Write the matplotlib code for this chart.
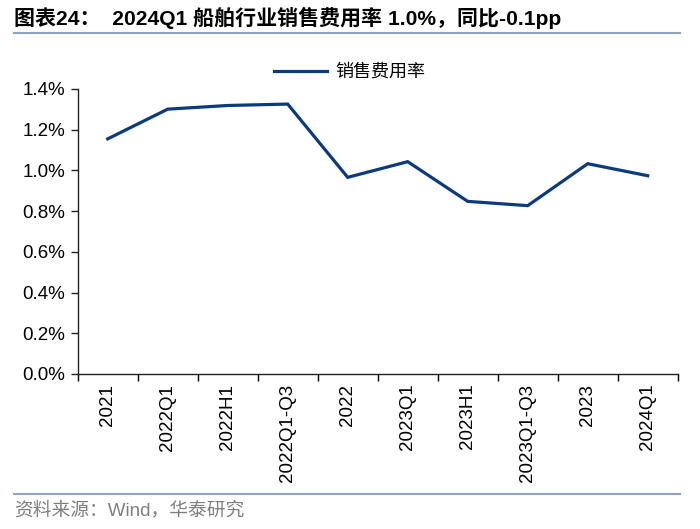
import matplotlib
matplotlib.use("Agg")
import matplotlib.pyplot as plt
from matplotlib.ticker import FuncFormatter, FixedLocator
from matplotlib.lines import Line2D

categories = ["2021", "2022Q1", "2022H1", "2022Q1-Q3", "2022", "2023Q1",
              "2023H1", "2023Q1-Q3", "2023", "2024Q1"]
sales_expense_ratio = [1.155, 1.301, 1.319, 1.326, 0.966, 1.043,
                       0.848, 0.827, 1.033, 0.974]
series_name = "销售费用率"
title_text = "图表24：  2024Q1 船舶行业销售费用率 1.0%，同比-0.1pp"
source_text = "资料来源：Wind，华泰研究"
yticks = [0.0, 0.2, 0.4, 0.6, 0.8, 1.0, 1.2, 1.4]

plt.rcParams['font.family'] = ['Liberation Sans', 'Noto Sans CJK SC', 'DejaVu Sans']

W, H = 700, 529
fig = plt.figure(figsize=(W / 100, H / 100), dpi=100)

ax = fig.add_axes([77.7 / W, 1 - 374 / H, 600 / W, (374 - 89) / H])
x = list(range(len(categories)))
line_color = "#0b3a7d"
ax.plot(x, sales_expense_ratio, color=line_color, lw=2.3, solid_joinstyle="miter")
ax.set_xlim(-0.5, len(categories) - 0.5)
ax.set_ylim(0, 1.4)
ax.set_yticks(yticks)
ax.yaxis.set_major_formatter(FuncFormatter(lambda v, p: f"{v:.1f}%"))
ax.set_xticks(x)
ax.set_xticklabels(categories, rotation=90)
ax.xaxis.set_minor_locator(FixedLocator([i - 0.5 for i in range(len(categories) + 1)]))
ax.tick_params(axis="x", which="major", length=0, pad=7, labelsize=13.5)
ax.tick_params(axis="x", which="minor", length=5, width=1, direction="out")
ax.tick_params(axis="y", length=5, width=1, direction="out", labelsize=13.5, pad=4)
for s in ["top", "right"]:
    ax.spines[s].set_visible(False)
for s in ["left", "bottom"]:
    ax.spines[s].set_linewidth(1)
    ax.spines[s].set_color("#222222")
ax.tick_params(colors="#222222", labelcolor="black")

handle = Line2D([], [], color=line_color, lw=2.3)
fig.legend([handle], [series_name], loc="center", bbox_to_anchor=(350 / W, 1 - 72 / H),
           frameon=False, handlelength=2.9, handletextpad=0.5,
           prop={"family": ["Noto Sans CJK SC"], "size": 13})

# title
fig.text(14 / W, 1 - 18 / H, title_text, fontsize=15.1, fontweight="bold",
         ha="left", va="center",
         family=["Liberation Sans", "Noto Sans CJK SC"])
sep_color = "#8ea3c4"
fig.add_artist(Line2D([14 / W, 680 / W], [1 - 33 / H, 1 - 33 / H], color=sep_color, lw=1.5))
fig.add_artist(Line2D([14 / W, 680 / W], [1 - 494 / H, 1 - 494 / H], color=sep_color, lw=1.5))
fig.text(14 / W, 1 - 510 / H, source_text, fontsize=13.5, color="#7f7f7f",
         ha="left", va="center", family=["Liberation Sans", "Noto Sans CJK SC"])

fig.savefig("out.png", dpi=100)
